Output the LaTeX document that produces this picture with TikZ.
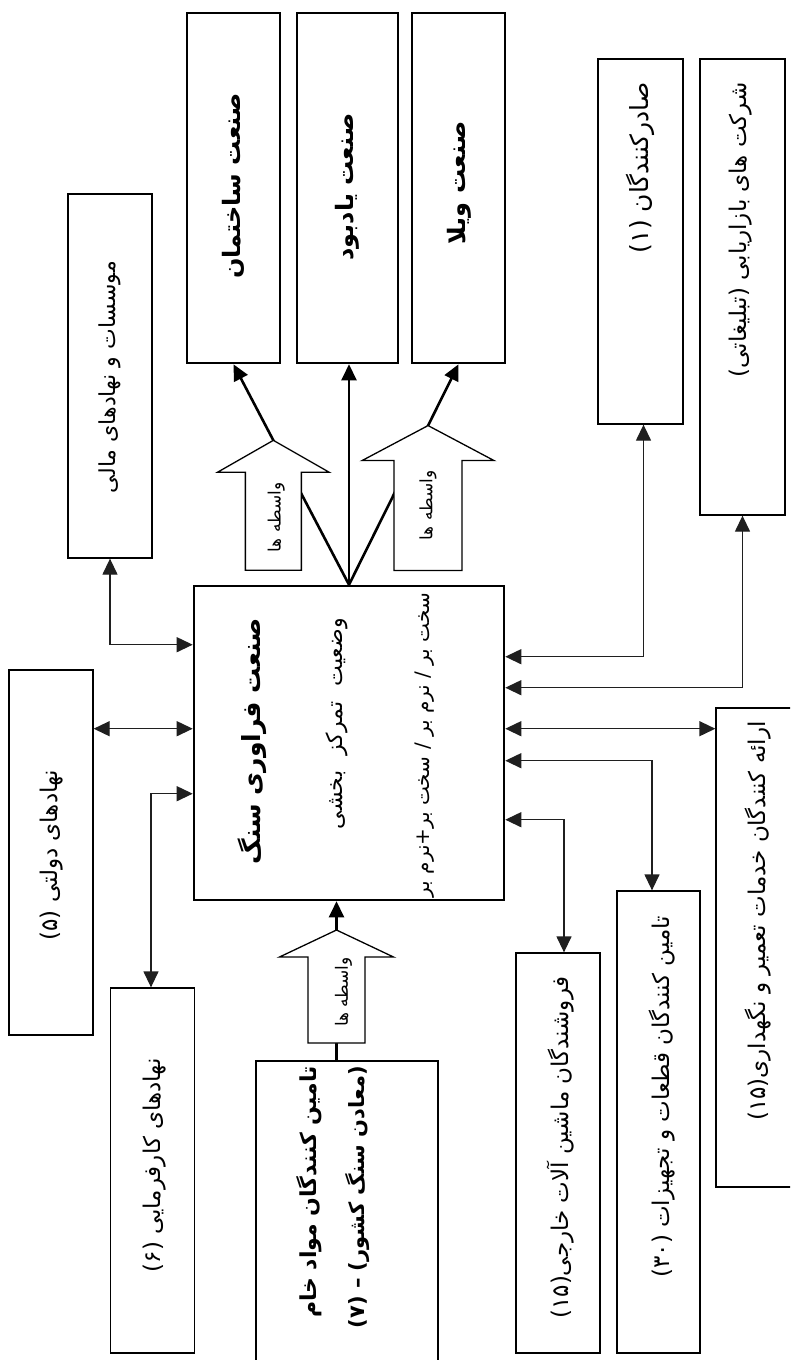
\documentclass[tikz,border=0pt]{standalone}
\usepackage{fontspec}
\usetikzlibrary{arrows.meta,calc}
\newfontfamily\fa[Script=Arabic]{DejaVu Sans}
\TeXXeTstate=1
\newcommand{\rtltext}[1]{\beginR #1\endR}
\newcommand{\widertl}[1]{\spaceskip=0.7em\relax\beginR #1\endR}
\begin{document}
\begin{tikzpicture}[x=1pt,y=-1pt,
  thickbox/.style={draw, line width=2.6pt, inner sep=0pt},
  thinbox/.style={draw, line width=1.3pt, inner sep=0pt},
  lbl/.style={rotate=90, inner sep=0pt, font=\fa\fontsize{23}{27}\selectfont},
  blbl/.style={rotate=90, inner sep=0pt, font=\fa\bfseries\fontsize{24}{28}\selectfont},
  clbl/.style={rotate=90, inner sep=0pt, font=\fa\bfseries\fontsize{25}{29}\selectfont},
  slbl/.style={rotate=90, inner sep=0pt, font=\fa\fontsize{17}{20}\selectfont},
  conn/.style={line width=1.3pt, draw=black!88},
  thk/.style={line width=2.6pt},
  tip/.style={-{Triangle[length=16pt,width=15pt]}},
  dtip/.style={{Triangle[length=16pt,width=15pt]}-{Triangle[length=16pt,width=15pt]}},
  hollow/.style={draw, fill=white, line width=1.3pt, line join=miter}
]
\clip (0,0) rectangle (790,1360);
\fill[white] (0,0) rectangle (790,1360);

% boxes
\node[thickbox, minimum width=93pt, minimum height=350pt] (ind1) at (233.5,188) {};
\node[thickbox, minimum width=101pt, minimum height=350pt] (ind2) at (347.5,188) {};
\node[thickbox, minimum width=93pt, minimum height=350pt] (ind3) at (458.5,188) {};
\node[thinbox, minimum width=85pt, minimum height=365pt] (exp) at (640.5,241.5) {};
\node[thinbox, minimum width=85pt, minimum height=456pt] (mkt) at (742.5,287) {};
\node[thinbox, minimum width=84pt, minimum height=364pt] (fin) at (110,376) {};
\node[thickbox, minimum width=310pt, minimum height=314pt] (core) at (349,743) {};
\node[thinbox, minimum width=84pt, minimum height=365pt] (gov) at (51,852.5) {};
\node[thinbox, minimum width=84pt, minimum height=365pt] (emp) at (152.5,1170.5) {};
\node[thickbox, minimum width=182pt, minimum height=310pt] (sup) at (347,1216) {};
\node[thinbox, minimum width=84pt, minimum height=400pt] (mach) at (558,1153) {};
\node[thinbox, minimum width=83pt, minimum height=462pt] (parts) at (658.5,1122) {};
\node[thinbox, minimum width=84pt, minimum height=479pt] (serv) at (758,947.5) {};

% texts
\node[blbl] (t1) at (233,186) {\rtltext{صنعت ساختمان}};
\node[blbl] (t2) at (347,187) {\rtltext{صنعت یادبود}};
\node[blbl] (t3) at (459,183) {\rtltext{صنعت ویلا}};
\node[lbl, font=\fa\fontsize{25}{29}\selectfont, anchor=east] (texp) at (640,82) {\rtltext{صادرکنندگان (۱)}};
\node[lbl, anchor=east] (tmkt) at (741,82) {\rtltext{شرکت های بازاریابی (تبلیغاتی)}};
\node[lbl, font=\fa\fontsize{22}{26}\selectfont] (tfin) at (110,377) {\rtltext{موسسات و نهادهای مالی}};
\node[lbl] (tgov) at (52,855) {\rtltext{نهادهای دولتی (۵)}};
\node[lbl, anchor=east] (temp) at (155,1058) {\rtltext{نهادهای کارفرمایی (۶)}};
\node[lbl, font=\fa\bfseries\fontsize{22}{26}\selectfont, anchor=east] (tsup1) at (309,1066) {\rtltext{تامین کنندگان مواد خام}};
\node[lbl, font=\fa\bfseries\fontsize{21}{25}\selectfont, anchor=east] (tsup2) at (358,1066) {\rtltext{(معادن سنگ کشور) – (۷)}};
\node[lbl, anchor=east] (tmach) at (561,976) {\rtltext{فروشندگان ماشین آلات خارجی(۱۵)}};
\node[lbl, anchor=east] (tparts) at (662,916) {\rtltext{تامین کنندگان قطعات و تجهیزات (۳۰)}};
\node[lbl, anchor=east] (tserv) at (758,721) {\rtltext{ارائه کنندگان خدمات تعمیر و نگهداری(۱۵)}};
\node[clbl, anchor=east] (tc1) at (252,618) {\rtltext{صنعت فراوری سنگ}};
\node[lbl, font=\fa\fontsize{22}{26}\selectfont, anchor=east] (tc2) at (337,618) {\widertl{وضعیت تمرکز بخشی}};
\node[lbl, font=\fa\fontsize{20}{24}\selectfont, anchor=east] (tc3) at (425,593) {\rtltext{سخت بر / نرم بر / سخت بر+نرم بر}};

% top connectors
\draw[thk, tip] (core.north) -- (ind1.south);
\draw[thk, tip] (core.north) -- (core.north |- ind2.south);
\draw[thk, tip] (core.north) -- (ind3.south);

% hollow arrows (intermediaries)
\coordinate (tipL) at ($(core.north)!0.655!(ind1.south)$);
\coordinate (tipR) at ($(core.north)!0.722!(ind3.south)$);
\draw[hollow] (tipL) -- ++(56,32) -- ++(-28,0) -- ++(0,98) -- ++(-56,0) -- ++(0,-98) -- ++(-28,0) -- cycle;
\draw[hollow] (tipR) -- ++(66,35) -- ++(-32,0) -- ++(0,110) -- ++(-68,0) -- ++(0,-110) -- ++(-32,0) -- cycle;
\node[slbl] (wL) at ($(tipL)+(3,77)$) {\rtltext{واسطه ها}};
\node[slbl] (wR) at ($(tipR)+(0,80)$) {\rtltext{واسطه ها}};

% bottom supply
\coordinate (supTop) at ($(sup.north)+(-10.5,0)$);
\coordinate (tipB) at (336.5,930);
\draw[thk] (supTop) -- (supTop |- 0,1043);
\draw[hollow] (tipB) -- ++(57,27) -- ++(-28.5,0) -- ++(0,86) -- ++(-57,0) -- ++(0,-86) -- ++(-28.5,0) -- cycle;
\draw[thk, tip] (tipB) -- (tipB |- core.south);
\node[slbl] (wB) at ($(tipB)+(7,62)$) {\rtltext{واسطه ها}};

% left connectors
\coordinate (cw1) at ($(core.north west)+(0,60)$);
\coordinate (cw2) at ($(core.north west)+(0,144)$);
\coordinate (cw3) at ($(core.north west)+(0,209)$);
\draw[conn, dtip] (cw1) -| (fin.south);
\draw[conn, dtip] (cw2) -- (cw2 -| gov.east);
\draw[conn, dtip] (cw3) -| ($(emp.north)+(-1.5,0)$);

% right connectors
\coordinate (ce1) at ($(core.north east)+(0,72)$);
\coordinate (ce2) at ($(core.north east)+(0,103)$);
\coordinate (ce3) at ($(core.north east)+(0,144)$);
\coordinate (ce4) at ($(core.north east)+(0,176)$);
\coordinate (ce5) at ($(core.north east)+(0,235)$);
\draw[conn, dtip] (ce1) -| ($(exp.south)+(3,0)$);
\draw[conn, dtip] (ce2) -| (mkt.south);
\draw[conn, dtip] (ce3) -- (ce3 -| serv.west);
\draw[conn, dtip] (ce4) -| ($(parts.north)+(-6.5,0)$);
\draw[conn, dtip] (ce5) -| ($(mach.north)+(6,0)$);
\end{tikzpicture}
\end{document}
